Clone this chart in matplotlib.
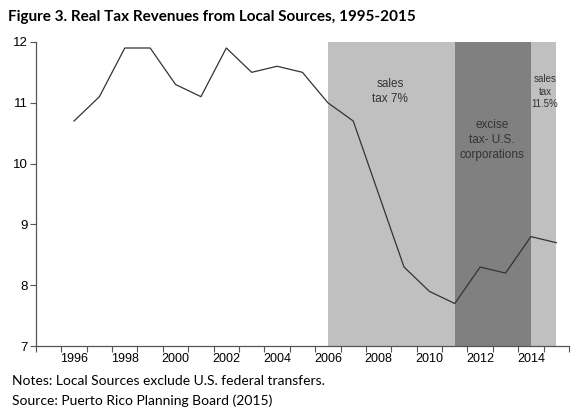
import matplotlib.pyplot as plt
import numpy as np

years = [1996, 1997, 1998, 1999, 2000, 2001, 2002, 2003, 2004, 2005,
         2006, 2007, 2008, 2009, 2010, 2011, 2012, 2013, 2014, 2015]
revenue = [10.7, 11.1, 11.9, 11.9, 11.3, 11.1, 11.9, 11.5, 11.6, 11.5,
           11.0, 10.7, 9.5, 8.3, 7.9, 7.7, 8.3, 8.2, 8.8, 8.7]

# tax periods (start, end, label, colour)
periods = [(2006, 2011, "sales\ntax 7%", "#c0c0c0"),
           (2011, 2014, "excise\ntax- U.S.\ncorporations", "#808080"),
           (2014, 2015, "sales\ntax\n11.5%", "#c0c0c0")]
label_pos = [(2008.45, 11.19, 8.5), (2012.47, 10.39, 8.5), (2014.56, 11.18, 7)]

xlabel_years = list(range(1996, 2015, 2))
yticks = [7, 8, 9, 10, 11, 12]

fig = plt.figure(figsize=(5.8, 4.15), dpi=100)
ax = fig.add_axes([0.062, 0.166, 0.919, 0.733])

for (x0, x1, txt, col), (tx, ty, fs) in zip(periods, label_pos):
    ax.axvspan(x0, x1, ymin=0, ymax=1, color=col, lw=0)
    ax.text(tx, ty, txt, ha='center', va='center', fontsize=fs,
            family='Liberation Sans', color='#333333', linespacing=1.3)

ax.plot(years, revenue, color='#333333', lw=0.9)

ax.set_xlim(1994.5, 2015.5)
ax.set_ylim(7, 12)
ax.set_yticks(yticks)
ax.set_yticklabels([str(v) for v in yticks], family='Liberation Sans', fontsize=9.5)

ax.set_xticks(np.arange(1994.5, 2016, 1.0))
ax.set_xticklabels([])
ax.set_xticks(xlabel_years, minor=True)
ax.set_xticklabels([str(y) for y in xlabel_years], minor=True,
                   family='Liberation Sans', fontsize=9)
ax.tick_params(axis='x', which='minor', length=0, pad=5)
ax.tick_params(axis='x', which='major', length=4, color='#555555')
ax.tick_params(axis='y', length=4, color='#555555', pad=2)

for s in ['top', 'right']:
    ax.spines[s].set_visible(False)
for s in ['left', 'bottom']:
    ax.spines[s].set_color('#555555')
    ax.spines[s].set_linewidth(0.9)

fig.text(0.014, 0.958, "Figure 3. Real Tax Revenues from Local Sources, 1995-2015",
         family='Lato', weight='bold', fontsize=11, va='center')
fig.text(0.02, 0.082, "Notes: Local Sources exclude U.S. federal transfers.",
         family='Lato', fontsize=10, va='center')
fig.text(0.02, 0.034, "Source: Puerto Rico Planning Board (2015)",
         family='Lato', fontsize=10, va='center')

plt.savefig('out.png', dpi=100)
